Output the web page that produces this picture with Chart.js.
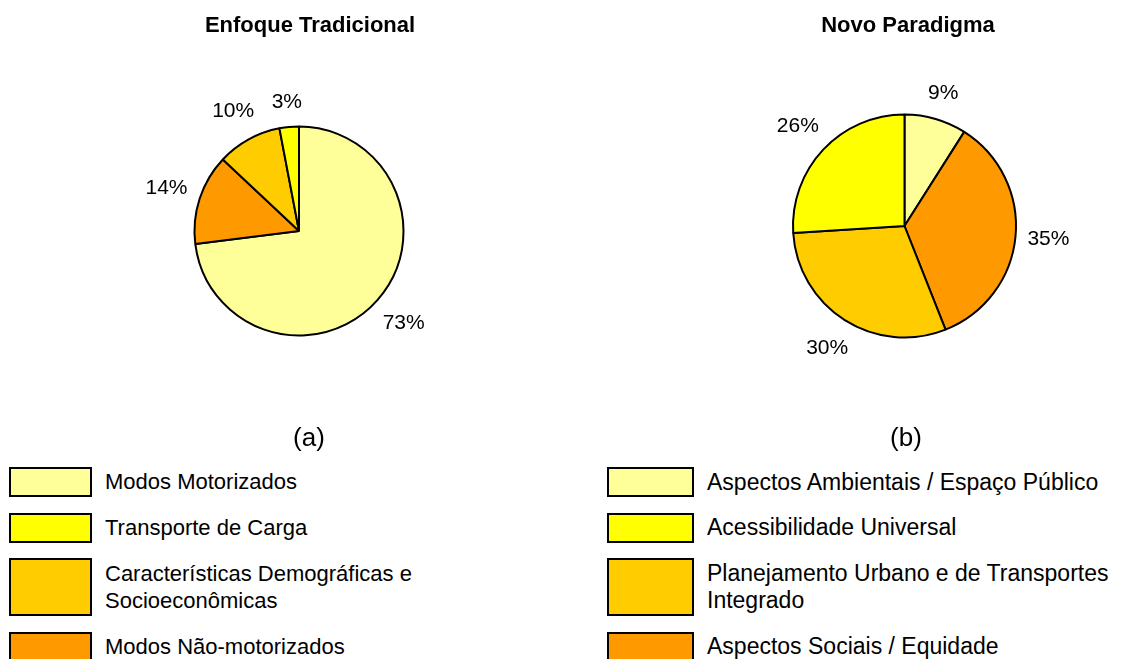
<!DOCTYPE html>
<html lang="pt">
<head>
<meta charset="utf-8">
<title>Enfoque Tradicional x Novo Paradigma</title>
<script src="https://cdn.jsdelivr.net/npm/chart.js@4.4.1/dist/chart.umd.min.js"></script>
<style>
  html, body { margin: 0; padding: 0; background: #fff; }
  #pagina { position: relative; width: 1134px; height: 659px; overflow: hidden;
            font-family: 'Liberation Sans', Arial, sans-serif; color: #000; }
  canvas { position: absolute; top: 0; }
  .titulo { position: absolute; top: 12px; width: 400px; margin-left: -200px; text-align: center;
            font-weight: bold; font-size: 22px; line-height: 26px; }
  .subfig { position: absolute; top: 422px; width: 100px; margin-left: -50px; text-align: center;
            font-size: 26px; line-height: 30px; }
  .legenda { position: absolute; top: 467px; display: flex; flex-direction: column; gap: 15.5px; }
  .item { display: flex; align-items: center; }
  .caixa { box-sizing: border-box; border: 2px solid #000; flex: none; }
  .texto { font-size: 22px; line-height: 27.5px; margin-left: 13px; white-space: nowrap; }
  #legendaB .texto { font-size: 23px; line-height: 27px; }
</style>
</head>
<body>
<div id="pagina">
  <canvas id="pizzaA" width="598" height="462" style="left:0"></canvas>
  <canvas id="pizzaB" width="457" height="452" style="left:676px"></canvas>
  <div class="titulo" style="left:310px">Enfoque Tradicional</div>
  <div class="titulo" style="left:908px">Novo Paradigma</div>
  <div class="subfig" style="left:309px">(a)</div>
  <div class="subfig" style="left:906px">(b)</div>
  <div class="legenda" id="legendaA" style="left:9px"></div>
  <div class="legenda" id="legendaB" style="left:607px"></div>
</div>
<script>
// categorias (ordem da legenda)
const rotulosA = ['Modos Motorizados', 'Transporte de Carga',
  ['Características Demográficas e', 'Socioeconômicas'], 'Modos Não-motorizados'];
const valoresA = [73, 3, 10, 14];

const rotulosB = ['Aspectos Ambientais / Espaço Público', 'Acessibilidade Universal',
  ['Planejamento Urbano e de Transportes', 'Integrado'], 'Aspectos Sociais / Equidade'];
const valoresB = [9, 26, 30, 35];

const cores = ['#FFFF99', '#FFFF00', '#FFCC00', '#FF9900'];

// sequência das fatias no sentido horário a partir do topo
const ordemFatias = [0, 3, 2, 1];

// percentuais fora da pizza, na direção do meio de cada fatia
const rotulosPct = {
  id: 'rotulosPct',
  afterDatasetsDraw(chart) {
    const ctx = chart.ctx;
    const meta = chart.getDatasetMeta(0);
    const dados = chart.data.datasets[0].data;
    ctx.save();
    ctx.font = '21px "Liberation Sans", Arial, sans-serif';
    ctx.fillStyle = '#000';
    ctx.textAlign = 'center';
    ctx.textBaseline = 'middle';
    meta.data.forEach((arc, i) => {
      const p = arc.getProps(['x', 'y', 'startAngle', 'endAngle', 'outerRadius'], true);
      const meio = (p.startAngle + p.endAngle) / 2;
      const cos = Math.cos(meio), sin = Math.sin(meio);
      const txt = dados[i] + '%';
      const w = ctx.measureText(txt).width;
      const alcance = w / 2 * Math.abs(cos) + 12.5 * Math.abs(sin);
      const d = p.outerRadius + 11 + alcance;
      ctx.fillText(txt, p.x + cos * d, p.y + sin * d);
    });
    ctx.restore();
  }
};

function criarPizza(id, rotulos, valores, raio) {
  return new Chart(document.getElementById(id), {
    type: 'pie',
    data: {
      labels: ordemFatias.map(i => rotulos[i]),
      datasets: [{
        data: ordemFatias.map(i => valores[i]),
        backgroundColor: ordemFatias.map(i => cores[i]),
        borderColor: '#000',
        borderWidth: 2,
        radius: raio
      }]
    },
    options: {
      responsive: false,
      animation: false,
      devicePixelRatio: 1,
      layout: { padding: 0 },
      plugins: {
        legend: { display: false },
        tooltip: { enabled: false }
      }
    },
    plugins: [rotulosPct]
  });
}

function montarLegenda(id, rotulos, larguraCaixa) {
  const el = document.getElementById(id);
  rotulos.forEach((r, i) => {
    const linhas = Array.isArray(r) ? r : [r];
    const item = document.createElement('div');
    item.className = 'item';
    const caixa = document.createElement('div');
    caixa.className = 'caixa';
    caixa.style.width = larguraCaixa + 'px';
    caixa.style.height = (28 * linhas.length + 2) + 'px';
    caixa.style.background = cores[i];
    const texto = document.createElement('div');
    texto.className = 'texto';
    texto.innerHTML = linhas.join('<br>');
    item.appendChild(caixa);
    item.appendChild(texto);
    el.appendChild(item);
  });
}

criarPizza('pizzaA', rotulosA, valoresA, 104.5);
criarPizza('pizzaB', rotulosB, valoresB, 111.5);
montarLegenda('legendaA', rotulosA, 83);
montarLegenda('legendaB', rotulosB, 87);
</script>
</body>
</html>
